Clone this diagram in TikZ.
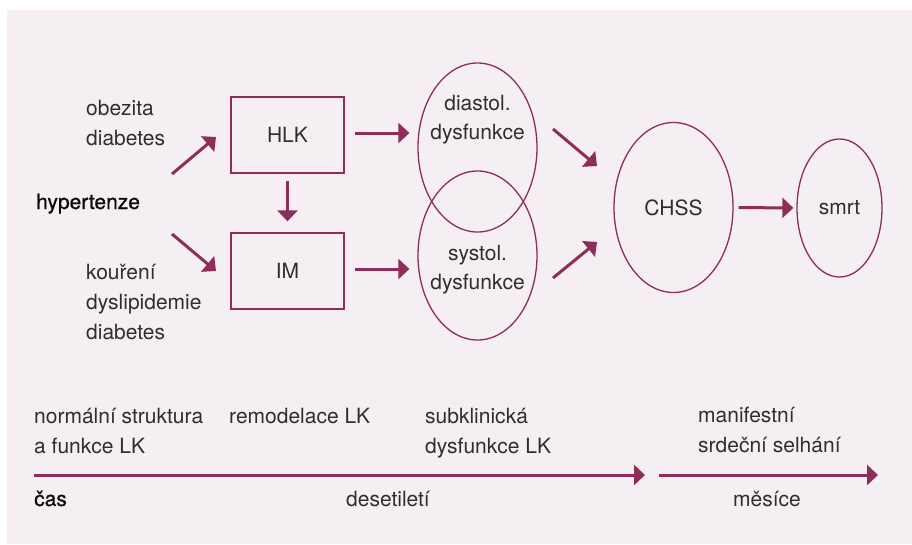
\documentclass[tikz,border=0pt]{standalone}
\usepackage{fontspec}
\setmainfont{TeX Gyre Heros}
\newfontfamily\keyfont[FakeBold=0.8]{TeX Gyre Heros}
\usetikzlibrary{shapes.geometric,arrows.meta}
\definecolor{bgc}{HTML}{F5EFF3}
\definecolor{acc}{HTML}{8E2D5A}
\definecolor{txt}{HTML}{2E2E2E}
\definecolor{strong}{HTML}{0A0A0A}
\begin{document}
\begin{tikzpicture}[x=1pt,y=-1pt,
  lbl/.style={anchor=base west,inner sep=0,text=txt,font=\fontsize{21}{25}\selectfont},
  clbl/.style={anchor=base,inner sep=0,text=txt,font=\fontsize{21}{25}\selectfont},
  keylbl/.style={lbl,text=strong,font=\keyfont\fontsize{21}{25}\selectfont},
  boxn/.style={draw=acc,line width=1.3pt,minimum width=113pt,minimum height=76pt,inner sep=0,text=txt,font=\fontsize{21}{25}\selectfont},
  ell/.style={draw=acc,line width=1.3pt,ellipse,inner sep=0,text=txt,font=\fontsize{21}{25}\selectfont},
  arr/.style={draw=acc,line width=3pt,-{Triangle[length=11pt,width=20pt]}},
]
\useasboundingbox (0,0) rectangle (912,544);
\fill[bgc] (7,10) rectangle (912,544);

% left labels
\node[lbl] (ob) at (86,115) {obezita};
\node[lbl] (di1) at (86,145) {diabetes};
\node[keylbl] (hyp) at (36,209) {hypertenze};
\node[lbl] (ko) at (86,279) {kouření};
\node[lbl] (dy) at (86,309) {dyslipidemie};
\node[lbl] (di2) at (86,339) {diabetes};

% boxes
\node[boxn] (hlk) at (287.5,135) {HLK};
\node[boxn] (im) at (287.5,271) {IM};

% ellipses
\node[ell,minimum width=119pt,minimum height=169pt] (dia) at (477.5,147.5) {};
\node[ell,minimum width=119pt,minimum height=169pt] (sys) at (477.5,255.5) {};
\node[clbl] (diat1) at (477.5,110) {diastol.};
\node[clbl] (diat2) at (477.5,139) {dysfunkce};
\node[clbl] (syst1) at (477.5,260) {systol.};
\node[clbl] (syst2) at (477.5,289) {dysfunkce};
\node[ell,minimum width=119pt,minimum height=170pt] (chss) at (673.5,207.5) {CHSS};
\node[ell,minimum width=85pt,minimum height=138pt] (smrt) at (839.5,208) {smrt};

% arrow end points
\coordinate (a1s) at (172,174);
\coordinate (a1e) at (216,137);
\coordinate (a2s) at (172,234);
\coordinate (a2e) at (216,271);
\coordinate (a3s) at (553,129);
\coordinate (a3e) at (597,166);
\coordinate (a4s) at (553,278);
\coordinate (a4e) at (597,242);

\draw[arr] (a1s) -- (a1e);
\draw[arr] (a2s) -- (a2e);
\draw[arr,shorten <=7pt,shorten >=11pt] (hlk.south) -- (im.north);
\draw[arr] ([shift={(10,-2)}]hlk.east) -- ([shift={(-8,-2)}]hlk.east -| dia.west);
\draw[arr] ([shift={(10,-2)}]im.east) -- ([shift={(-8,-2)}]im.east -| sys.west);
\draw[arr] (a3s) -- (a3e);
\draw[arr] (a4s) -- (a4e);
\draw[arr,shorten <=5pt,shorten >=3pt] (chss.east) -- (smrt.west);

% stage labels
\node[lbl] (st1a) at (34,423) {normální struktura};
\node[lbl] (st1b) at (34,453) {a funkce LK};
\node[lbl] (st2) at (229,423) {remodelace LK};
\node[lbl] (st3a) at (425,423) {subklinická};
\node[lbl] (st3b) at (425,453) {dysfunkce LK};
\node[lbl] (st4a) at (698,422) {manifestní};
\node[lbl] (st4b) at (698,452) {srdeční selhání};

% timeline
\coordinate (t1s) at (34,475);
\coordinate (t1e) at (645,475);
\coordinate (t2s) at (659,475);
\coordinate (t2e) at (878,475);
\draw[arr] (t1s) -- (t1e);
\draw[arr] (t2s) -- (t2e);

\node[keylbl] (cas) at (34,506) {čas};
\node[clbl] (dec) at (388,506) {desetiletí};
\node[clbl] (mon) at (767,506) {měsíce};
\end{tikzpicture}
\end{document}
